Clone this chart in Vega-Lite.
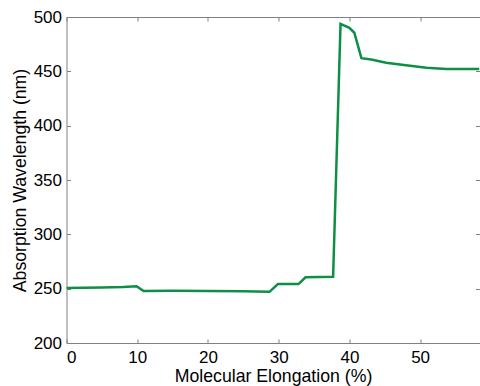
{
  "$schema": "https://vega.github.io/schema/vega-lite/v6.json",
  "width": 413,
  "height": 326,
  "autosize": "none",
  "padding": {"left": 66.5, "top": 17, "right": 0, "bottom": 43},
  "background": "white",
  "config": {
    "view": {"stroke": null},
    "axis": {
      "domainColor": "#808080",
      "tickColor": "#808080",
      "labelColor": "#000000",
      "titleColor": "#000000",
      "labelFont": "Liberation Sans",
      "titleFont": "Liberation Sans",
      "labelFontSize": 17,
      "titleFontSize": 17.7,
      "titleFontWeight": "normal",
      "grid": false,
      "tickSize": -4,
      "domainWidth": 1,
      "tickWidth": 1
    }
  },
  "data": {
    "values": [
      {"elongation": 0, "wavelength": 250.5},
      {"elongation": 5, "wavelength": 251},
      {"elongation": 8, "wavelength": 251.6},
      {"elongation": 9.9, "wavelength": 252.3},
      {"elongation": 10.9, "wavelength": 247.8},
      {"elongation": 15, "wavelength": 248.1},
      {"elongation": 20, "wavelength": 247.8},
      {"elongation": 25, "wavelength": 247.6},
      {"elongation": 28.7, "wavelength": 247.1},
      {"elongation": 29.9, "wavelength": 254.3},
      {"elongation": 32.8, "wavelength": 254.2},
      {"elongation": 33.8, "wavelength": 260.4},
      {"elongation": 37.7, "wavelength": 260.9},
      {"elongation": 38.75, "wavelength": 493.7},
      {"elongation": 40.0, "wavelength": 490.1},
      {"elongation": 40.7, "wavelength": 485.5},
      {"elongation": 41.7, "wavelength": 462.1},
      {"elongation": 43.1, "wavelength": 460.9},
      {"elongation": 45.2, "wavelength": 457.9},
      {"elongation": 48.0, "wavelength": 455.6},
      {"elongation": 50.9, "wavelength": 453.3},
      {"elongation": 53.7, "wavelength": 452.1},
      {"elongation": 58.4, "wavelength": 452.1}
    ]
  },
  "layer": [
    {
      "mark": {"type": "line", "color": "#0d8f46", "strokeWidth": 2.5, "clip": true},
      "encoding": {
        "x": {
          "field": "elongation",
          "type": "quantitative",
          "scale": {"domain": [0, 58.4], "nice": false, "zero": false},
          "axis": {"orient": "bottom", "values": [0, 10, 20, 30, 40, 50], "title": "Molecular Elongation (%)", "labelPadding": 10, "titlePadding": 2}
        },
        "y": {
          "field": "wavelength",
          "type": "quantitative",
          "scale": {"domain": [200, 500], "nice": false, "zero": false},
          "axis": {"orient": "left", "values": [200, 250, 300, 350, 400, 450, 500], "title": "Absorption Wavelength (nm)", "labelPadding": 9, "titlePadding": 4}
        }
      }
    },
    {
      "mark": {"type": "line", "opacity": 0},
      "encoding": {
        "x": {
          "field": "elongation",
          "type": "quantitative",
          "scale": {"domain": [0, 58.4], "nice": false, "zero": false},
          "axis": {"orient": "top", "values": [0, 10, 20, 30, 40, 50], "labels": false, "title": null}
        },
        "y": {
          "field": "wavelength",
          "type": "quantitative",
          "scale": {"domain": [200, 500], "nice": false, "zero": false},
          "axis": {"orient": "right", "values": [200, 250, 300, 350, 400, 450, 500], "labels": false, "title": null, "domain": false}
        }
      }
    }
  ],
  "resolve": {"axis": {"x": "independent", "y": "independent"}}
}
